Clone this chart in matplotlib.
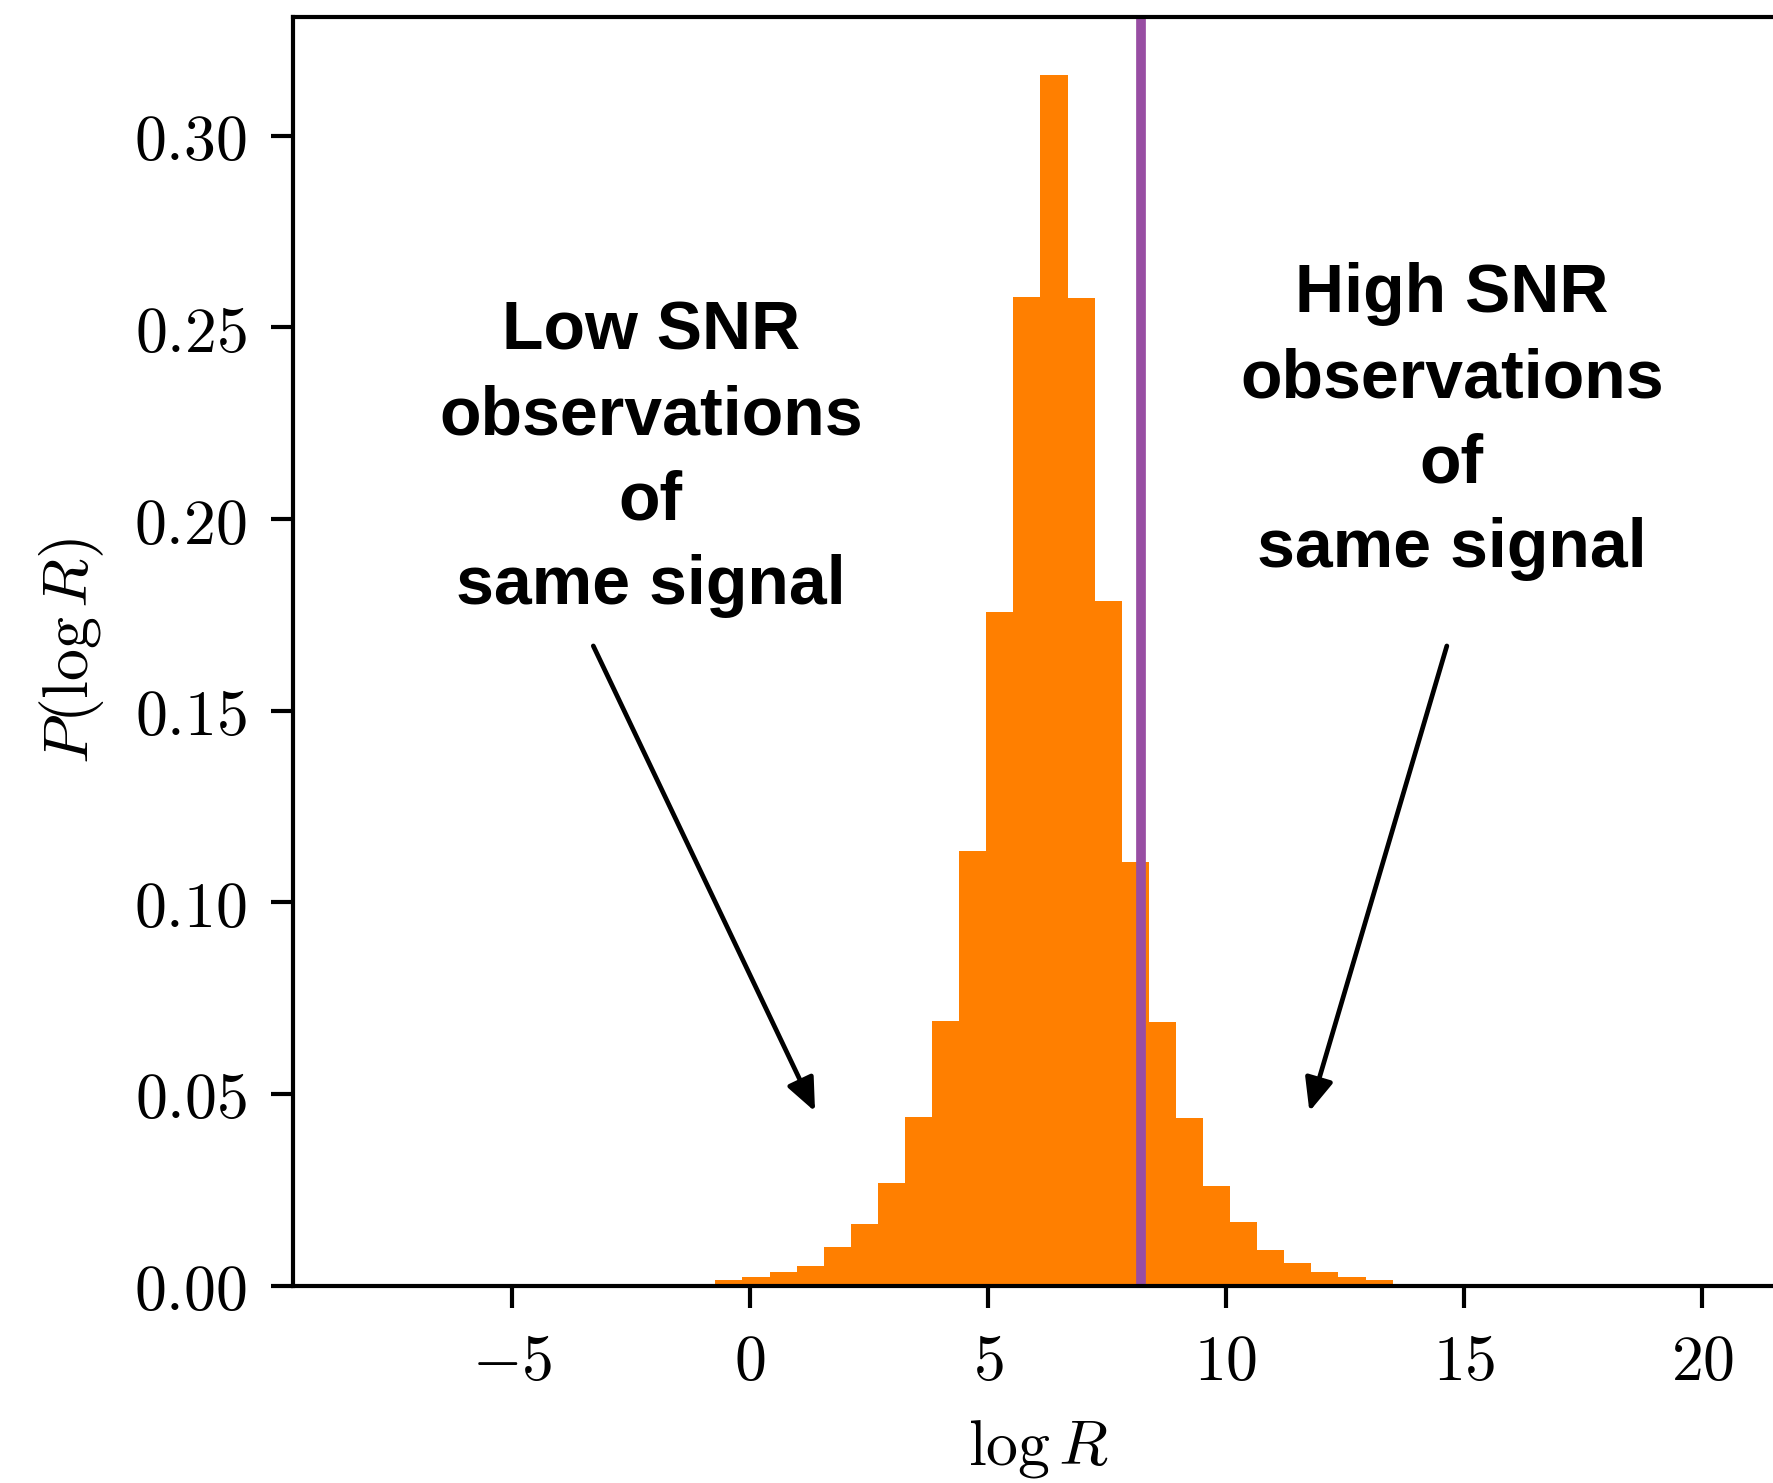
import matplotlib
matplotlib.use("Agg")
import matplotlib.pyplot as plt
from matplotlib.patches import FancyArrowPatch

plt.rcParams["mathtext.fontset"] = "cm"
plt.rcParams["axes.unicode_minus"] = True

# Histogram of log Bayes factors (normalised density)
bin_edges = [-0.73, -0.16, 0.41, 0.98, 1.55, 2.12, 2.68, 3.25, 3.82, 4.39,
             4.96, 5.53, 6.10, 6.67, 7.24, 7.81, 8.38, 8.94, 9.51, 10.08,
             10.65, 11.22, 11.79, 12.36, 12.93, 13.50]
density = [0.0014, 0.0023, 0.0036, 0.0051, 0.0101, 0.0162, 0.0269, 0.0441,
           0.0690, 0.1133, 0.1757, 0.2580, 0.3158, 0.2576, 0.1786, 0.1105,
           0.0687, 0.0437, 0.0260, 0.0166, 0.0093, 0.0059, 0.0035, 0.0023,
           0.0014]

# Reference value of log R for the injected signal
ref_logR = 8.21

xticks = [-5, 0, 5, 10, 15, 20]
xtick_labels = [r"$-5$", r"$0$", r"$5$", r"$10$", r"$15$", r"$20$"]
yticks = [0.00, 0.05, 0.10, 0.15, 0.20, 0.25, 0.30]
ytick_labels = [r"$0.00$", r"$0.05$", r"$0.10$", r"$0.15$", r"$0.20$",
                r"$0.25$", r"$0.30$"]

low_label = "Low SNR\nobservations\nof\nsame signal"
high_label = "High SNR\nobservations\nof\nsame signal"

BAR = "#ff7f00"
LINE = "#984ea3"

W, H = 1773, 1483
fig = plt.figure(figsize=(W / 100, H / 100), dpi=100)
ax = fig.add_axes([293 / W, 1 - 1285.6 / H, (1785 - 293) / W, (1285.6 - 17) / H])

widths = [b - a for a, b in zip(bin_edges[:-1], bin_edges[1:])]
ax.bar(bin_edges[:-1], density, width=widths, align="edge",
       color=BAR, edgecolor="none", linewidth=0, zorder=1)
ax.axvline(ref_logR, color=LINE, lw=7, zorder=2)

ax.set_xlim(-9.60, 21.74)
ax.set_ylim(0, 0.331)
ax.set_xticks(xticks, labels=xtick_labels)
ax.set_yticks(yticks, labels=ytick_labels)

for side in ("top", "left", "bottom"):
    ax.spines[side].set_linewidth(3)
ax.spines["right"].set_visible(False)
ax.tick_params(axis="both", direction="out", length=16, width=3,
               labelsize=46, color="black")
ax.tick_params(axis="x", pad=17)
ax.tick_params(axis="y", pad=17)

ax.set_xlabel(r"$\log R$", fontsize=46, labelpad=18)
ax.set_ylabel(r"$P(\log R)$", fontsize=46, labelpad=20)

txt_kw = dict(fontsize=49, fontweight="bold", family="Liberation Sans",
              ha="center", va="center", multialignment="center",
              linespacing=1.42, color="black", zorder=5)
ax.text(-2.084, 0.2158, low_label, **txt_kw)
ax.text(14.742, 0.2254, high_label, **txt_kw)

arrow_kw = dict(arrowstyle="-|>,head_length=20,head_width=8.6",
                mutation_scale=1, color="black", lw=3.4,
                shrinkA=0, shrinkB=0, zorder=5)
ax.add_patch(FancyArrowPatch((-3.292, 0.1669), (1.366, 0.0454), **arrow_kw))
ax.add_patch(FancyArrowPatch((14.637, 0.1669), (11.750, 0.0454), **arrow_kw))

fig.savefig("out.png", dpi=100)
